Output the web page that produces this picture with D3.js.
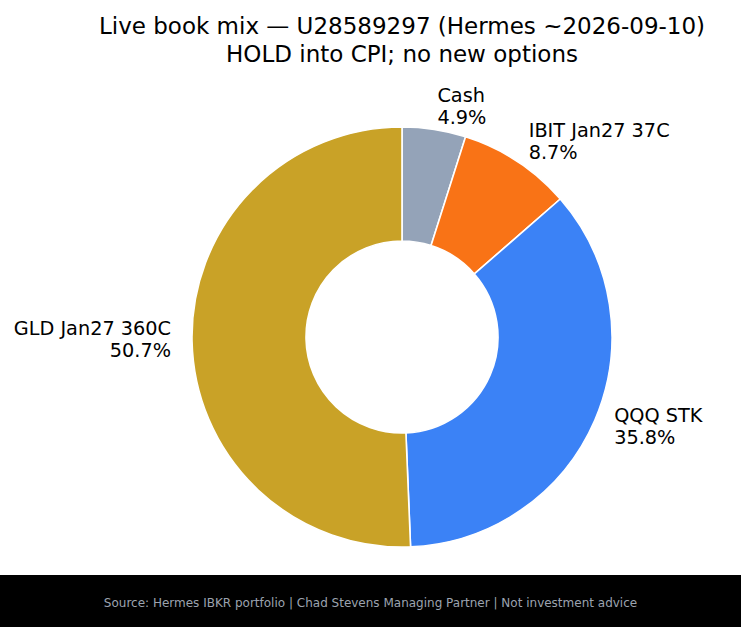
<!DOCTYPE html>
<html><head><meta charset="utf-8">
<script src="https://cdn.jsdelivr.net/npm/d3@7"></script>
<style>body{margin:0;background:#fff}svg{display:block}text{font-family:"DejaVu Sans",sans-serif}</style>
</head><body><svg id="c" width="741" height="627"></svg>
<script>
const categories = ["Cash", "IBIT Jan27 37C", "QQQ STK", "GLD Jan27 360C"];
const values = [4.9, 8.7, 35.8, 50.7];
const colors = ["#94a3b8", "#f97316", "#3b82f6", "#c9a227"];
const titleLines = ["Live book mix — U28589297 (Hermes ~2026-09-10)", "HOLD into CPI; no new options"];
const footer = "Source: Hermes IBKR portfolio | Chad Stevens Managing Partner | Not investment advice";

const svg = d3.select("#c");
const W = 741, H = 627;
const cx = 402, cy = 337, R = 210, r0 = 96, LR = R * 1.1;

svg.append("g").attr("text-anchor", "middle").attr("font-size", 23).attr("fill", "#000")
  .selectAll("text").data(titleLines).join("text")
  .attr("x", cx).attr("y", (d, i) => 34 + i * 28).text(d => d);

const pie = d3.pie().sort(null).value(d => d.v);
const arcs = pie(categories.map((c, i) => ({c, v: values[i], col: colors[i]})));
const arc = d3.arc().innerRadius(r0).outerRadius(R);
const g = svg.append("g").attr("transform", `translate(${cx},${cy})`);
g.selectAll("path").data(arcs).join("path")
  .attr("d", arc).attr("fill", d => d.data.col)
  .attr("stroke", "#fff").attr("stroke-width", 1.6).attr("stroke-linejoin", "round");

g.selectAll("text.l").data(arcs).join("text").attr("class", "l")
  .attr("font-size", 19.3).attr("fill", "#000")
  .each(function(d) {
    const a = (d.startAngle + d.endAngle) / 2;
    const x = LR * Math.sin(a), y = -LR * Math.cos(a);
    const t = d3.select(this).attr("text-anchor", x >= 0 ? "start" : "end");
    t.append("tspan").attr("x", x).attr("y", y - 6.5).text(d.data.c);
    t.append("tspan").attr("x", x).attr("y", y + 15.5).text(d.data.v.toFixed(1) + "%");
  });

svg.append("rect").attr("x", 0).attr("y", 575).attr("width", W).attr("height", H - 575).attr("fill", "#000");
svg.append("text").attr("x", W / 2).attr("y", 607).attr("text-anchor", "middle")
  .attr("font-size", 12).attr("fill", "#9ca3af").text(footer);
</script></body></html>
